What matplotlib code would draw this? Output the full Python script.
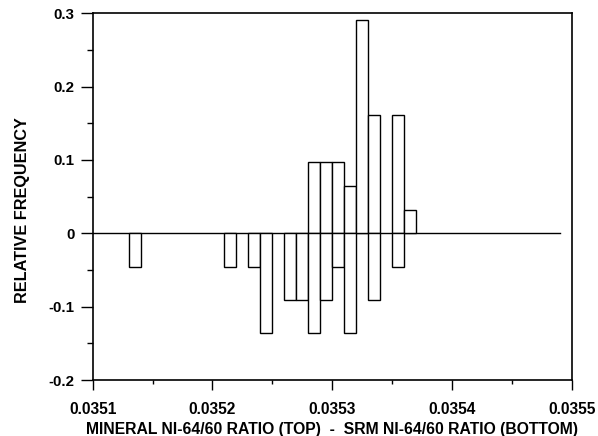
import matplotlib
matplotlib.use("Agg")
import matplotlib.pyplot as plt
from matplotlib.ticker import MultipleLocator

plt.rcParams['font.family'] = ['Liberation Sans', 'DejaVu Sans']
plt.rcParams['font.weight'] = 'bold'

# Mineral Ni-64/60 ratio histogram (top), bin left edges and counts (n = 31)
mineral_bins = [0.03528, 0.03529, 0.03530, 0.03531, 0.03532, 0.03533, 0.03535, 0.03536]
mineral_counts = [3, 3, 3, 2, 9, 5, 5, 1]
mineral_n = 31

# SRM Ni-64/60 ratio histogram (bottom), bin left edges and counts (n = 22)
srm_bins = [0.03513, 0.03521, 0.03523, 0.03524, 0.03526, 0.03527, 0.03528,
            0.03529, 0.03530, 0.03531, 0.03533, 0.03535]
srm_counts = [1, 1, 1, 3, 2, 2, 3, 2, 1, 3, 2, 1]
srm_n = 22

bin_width = 0.00001

x_ticks = [0.0351, 0.0352, 0.0353, 0.0354, 0.0355]
x_ticklabels = ["0.0351", "0.0352", "0.0353", "0.0354", "0.0355"]
y_ticks = [-0.2, -0.1, 0.0, 0.1, 0.2, 0.3]
y_ticklabels = ["-0.2", "-0.1", "0", "0.1", "0.2", "0.3"]

mineral_freq = [c / mineral_n for c in mineral_counts]
srm_freq = [-c / srm_n for c in srm_counts]

fig = plt.figure(figsize=(5.98, 4.36), dpi=100)
ax = fig.add_axes([0.155, 0.128, 0.801, 0.842])

ax.axhline(0, xmin=0, xmax=0.975, color='black', lw=1.0, zorder=1)
ax.bar(mineral_bins, mineral_freq, width=bin_width, align='edge',
       facecolor='white', edgecolor='black', lw=1.0, zorder=2)
ax.bar(srm_bins, srm_freq, width=bin_width, align='edge',
       facecolor='white', edgecolor='black', lw=1.0, zorder=2)

ax.set_xlim(0.0351, 0.0355)
ax.set_ylim(-0.2, 0.3)
ax.set_xticks(x_ticks)
ax.set_xticklabels(x_ticklabels)
ax.set_yticks(y_ticks)
ax.set_yticklabels(y_ticklabels)
ax.xaxis.set_minor_locator(MultipleLocator(0.00005))
ax.yaxis.set_minor_locator(MultipleLocator(0.05))
ax.tick_params(axis='x', which='major', direction='out', length=7, width=1.0,
               labelsize=11.2, pad=8.5)
ax.tick_params(axis='x', which='minor', direction='out', length=3, width=1.0)
ax.tick_params(axis='y', which='major', direction='out', length=8.5, width=1.0,
               labelsize=10.8, pad=4.5)
ax.tick_params(axis='y', which='minor', direction='out', length=4, width=1.0)
for sp in ax.spines.values():
    sp.set_linewidth(1.2)

ax.set_xlabel("MINERAL NI-64/60 RATIO (TOP)  -  SRM NI-64/60 RATIO (BOTTOM)",
              fontsize=11.3, fontweight='bold', labelpad=4)
ax.set_ylabel("RELATIVE FREQUENCY", fontsize=11.7, fontweight='bold')
ax.yaxis.set_label_coords(-0.131, 0.463)

fig.savefig("out.png", dpi=100)
